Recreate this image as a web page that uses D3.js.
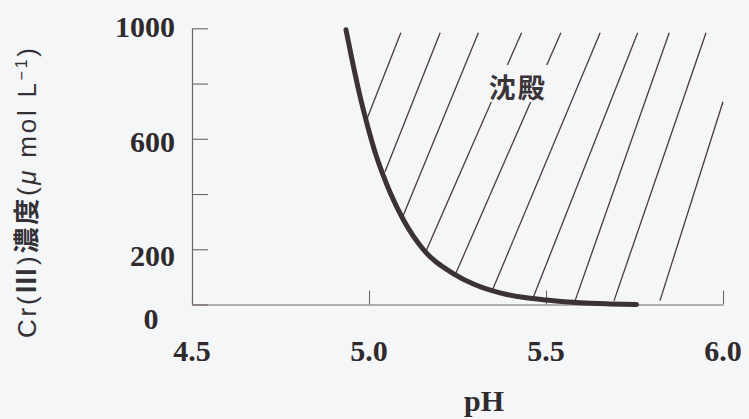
<!DOCTYPE html>
<html>
<head>
<meta charset="utf-8">
<script src="https://cdn.jsdelivr.net/npm/d3@7"></script>
<style>
  html, body { margin: 0; padding: 0; background: #f5f6f8; }
  svg { display: block; }
</style>
</head>
<body>
<svg id="chart" width="749" height="419"></svg>
<script>
// Solubility of Cr(III) against pH; the hatched area is where the hydroxide precipitates.
const curvePH   = [4.935, 4.951, 4.975, 4.994, 5.022, 5.040, 5.059, 5.097, 5.153, 5.238, 5.295, 5.370, 5.440, 5.502, 5.596, 5.680, 5.756];
const curveConc = [995,   893,   752,   656,   532,   468,   407,   307,   200,   112,   74,    42,    25,    16,    6,     2,     0];

// Hatch strokes of the precipitation region (upper end, lower end on the curve)
const hatchTopPH      = [5.090, 5.201, 5.309, 5.431, 5.542, 5.653, 5.759, 5.848, 5.952, 6.000];
const hatchTopConc    = [984,   984,   984,   984,   984,   984,   984,   984,   984,   734];
const hatchBottomPH   = [4.995, 5.045, 5.095, 5.161, 5.245, 5.349, 5.464, 5.582, 5.692, 5.822];
const hatchBottomConc = [674,   480,   317,   193,   112,   53,    26,    13,    13,    14];

const yTickValues  = [0, 200, 400, 600, 800, 1000];
const yLabelValues = [0, 200, 600, 1000];
const xTickValues  = [4.5, 5.0, 5.5, 6.0];
const xTickLabels  = ["4.5", "5.0", "5.5", "6.0"];

const regionLabel = "沈殿";
const xTitle = "pH";

const svg = d3.select("#chart");
const ink = "#2f2a2e";
const axisColor = "#6f6468";
const serif = "'Liberation Serif', 'Times New Roman', serif";

const x = d3.scaleLinear().domain([4.5, 6.0]).range([192, 723]);
const y = d3.scaleLinear().domain([0, 1000]).range([304.5, 28.3]);

// Axes: inward ticks, no printed labels from the axis generator
const yAxis = svg.append("g")
  .attr("transform", `translate(${x(4.5)},0)`)
  .call(d3.axisLeft(y).tickValues(yTickValues).tickSize(-16).tickSizeOuter(0).tickFormat(""));
const xAxis = svg.append("g")
  .attr("transform", `translate(0,${y(0)})`)
  .call(d3.axisBottom(x).tickValues(xTickValues).tickSize(-14).tickSizeOuter(0).tickFormat(""));
[yAxis, xAxis].forEach(g => {
  g.selectAll("path.domain").attr("stroke", axisColor).attr("stroke-width", 1.2);
  g.selectAll(".tick line").attr("stroke", axisColor).attr("stroke-width", 1.1);
});

// y tick labels
svg.append("g").selectAll("text")
  .data(yLabelValues)
  .join("text")
  .attr("x", d => d === 0 ? 151 : 175)
  .attr("y", d => d === 0 ? y(0) + 24 : y(d) + 9 + (1000 - d) * 0.01)
  .attr("text-anchor", d => d === 0 ? "middle" : "end")
  .attr("font-family", serif)
  .attr("font-weight", "bold")
  .attr("font-size", 30)
  .attr("fill", ink)
  .text(d => d);

// x tick labels
svg.append("g").selectAll("text")
  .data(xTickValues)
  .join("text")
  .attr("x", d => x(d))
  .attr("y", 361)
  .attr("text-anchor", "middle")
  .attr("font-family", serif)
  .attr("font-weight", "bold")
  .attr("font-size", 30)
  .attr("fill", ink)
  .text((d, i) => xTickLabels[i]);

// x axis title
svg.append("text")
  .attr("x", 484)
  .attr("y", 411)
  .attr("text-anchor", "middle")
  .attr("font-family", serif)
  .attr("font-weight", "bold")
  .attr("font-size", 30)
  .attr("fill", ink)
  .text(xTitle);

// y axis title (rotated)
const yTitle = svg.append("text")
  .attr("transform", "translate(27,193) rotate(-90)")
  .attr("text-anchor", "middle")
  .attr("dy", "0.36em")
  .attr("textLength", 290)
  .attr("font-family", "'Liberation Sans', Arial, 'Noto Sans CJK JP', sans-serif")
  .attr("font-size", 26)
  .attr("fill", "#333036");
yTitle.append("tspan").text("Cr(");
yTitle.append("tspan").attr("font-family", "'Noto Sans CJK JP', sans-serif").attr("font-weight", "bold").text("Ⅲ");
yTitle.append("tspan").text(")");
yTitle.append("tspan").attr("font-family", "'Noto Sans CJK JP', sans-serif").attr("font-weight", "bold").text("濃度");
yTitle.append("tspan").text("(");
yTitle.append("tspan").attr("font-style", "italic").text("μ");
yTitle.append("tspan").text(" mol L");
yTitle.append("tspan").attr("font-size", 16).attr("dy", -9).text("−1");
yTitle.append("tspan").attr("dy", 9).text(")");

// hatch strokes of the precipitation region
const hatch = hatchTopPH.map((p, i) => ({
  x1: p, y1: hatchTopConc[i], x2: hatchBottomPH[i], y2: hatchBottomConc[i]
}));
svg.append("g").selectAll("line")
  .data(hatch)
  .join("line")
  .attr("x1", d => x(d.x1)).attr("y1", d => y(d.y1))
  .attr("x2", d => x(d.x2)).attr("y2", d => y(d.y2))
  .attr("stroke", "#4a3942")
  .attr("stroke-width", 1.3);

// region label with a cleared patch behind it
const lx = x(5.42), ly = y(784);
svg.append("rect")
  .attr("x", lx - 32).attr("y", ly - 23)
  .attr("width", 66).attr("height", 37)
  .attr("fill", "#f5f6f8");
svg.append("text")
  .attr("x", lx).attr("y", ly)
  .attr("dy", "0.36em")
  .attr("text-anchor", "middle")
  .attr("font-family", "'Noto Sans CJK JP', sans-serif")
  .attr("font-weight", "bold")
  .attr("font-size", 27)
  .attr("letter-spacing", 2)
  .attr("fill", "#3a3338")
  .text(regionLabel);

// solubility curve
const pts = curvePH.map((p, i) => [p, curveConc[i]]);
svg.append("path")
  .datum(pts)
  .attr("fill", "none")
  .attr("stroke", "#3b3136")
  .attr("stroke-width", 5)
  .attr("stroke-linecap", "round")
  .attr("stroke-linejoin", "round")
  .attr("d", d3.line().x(d => x(d[0])).y(d => y(d[1])).curve(d3.curveMonotoneX));
</script>
</body>
</html>
